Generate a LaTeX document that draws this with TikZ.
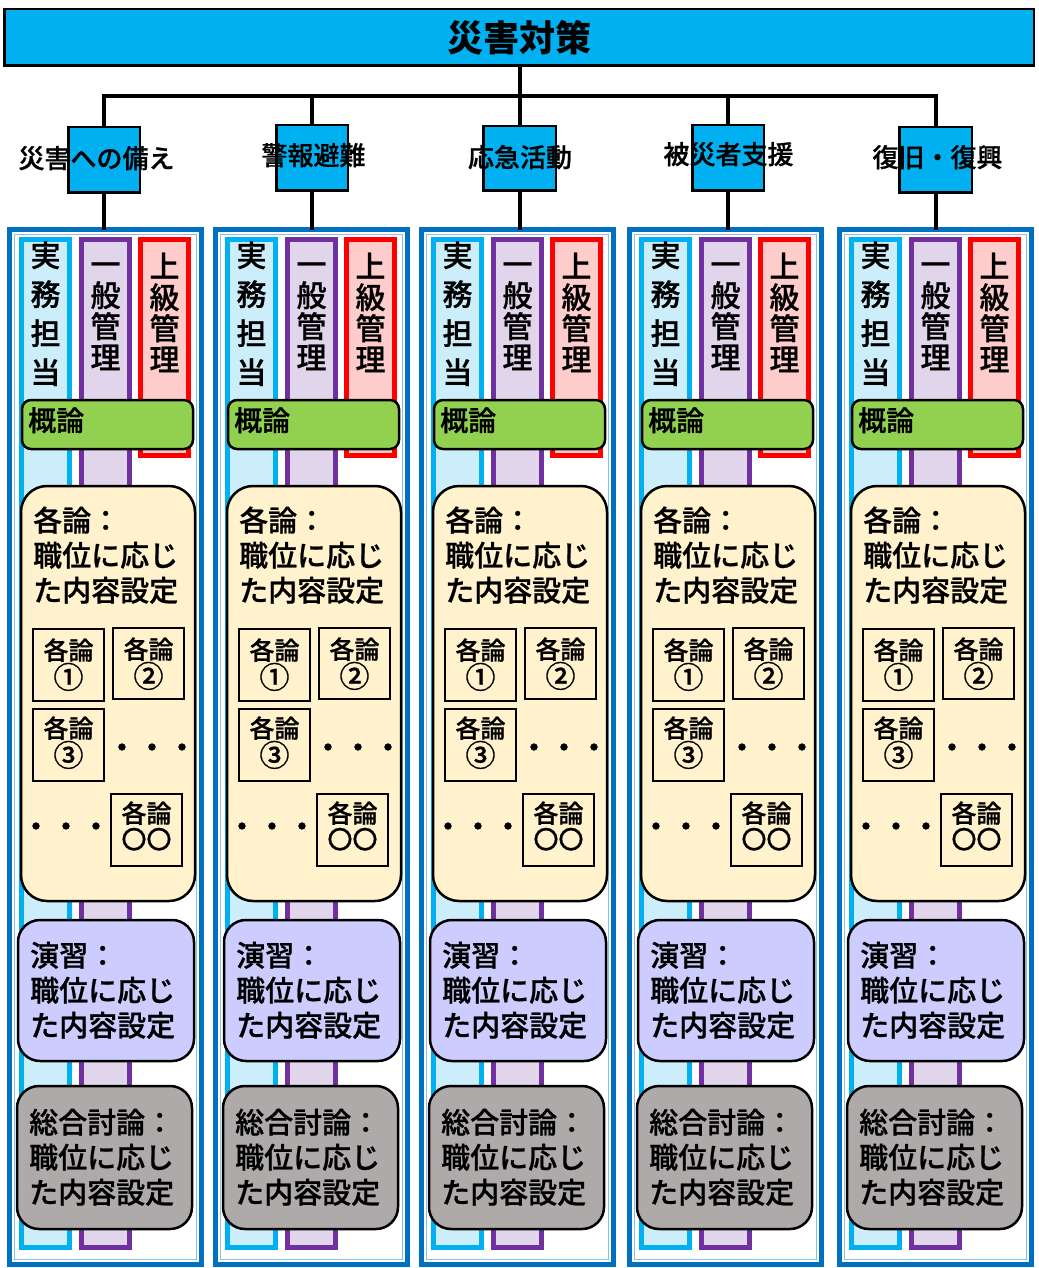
\documentclass[tikz,border=0pt]{standalone}
\usepackage{fontspec}
\setmainfont{Noto Sans CJK JP}
\IfFontExistsTF{Noto Sans CJK JP Medium}
  {\newfontfamily\jpm{Noto Sans CJK JP Medium}[FakeBold=0.8]}
  {\newfontfamily\jpm{Noto Sans CJK JP}[FakeBold=2]}
\newcommand\topstr{\rule{0pt}{.88em}}
\newcommand\circnum[1]{{\fontsize{30}{25}\selectfont #1}}
\definecolor{cBlue}{HTML}{0070C0}
\definecolor{cCyan}{HTML}{00B0F0}
\definecolor{cCyanL}{HTML}{CCEEFA}
\definecolor{cPurple}{HTML}{7030A0}
\definecolor{cPurpleL}{HTML}{E0D5EA}
\definecolor{cRed}{HTML}{FF0000}
\definecolor{cRedL}{HTML}{FFCCCC}
\definecolor{cGreen}{HTML}{92D050}
\definecolor{cYellow}{HTML}{FFF2CC}
\definecolor{cLav}{HTML}{CCCCFF}
\definecolor{cGray}{HTML}{AEAAAA}
\begin{document}
\begin{tikzpicture}[x=1pt,y=-1pt,
 box/.style={inner sep=0pt, outer sep=0pt, anchor=north west},
 sz/.style 2 args={minimum width=#1pt, minimum height=#2pt},
 titlebox/.style={box, draw=black, line width=2.5pt, fill=cCyan},
 catbox/.style={box, draw=black, line width=2.5pt, fill=cCyan},
 conn/.style={line width=4pt, draw=black, line join=miter},
 colbox/.style={box, draw=cBlue, line width=5.5pt, fill=white},
 colin/.style={box, draw=cBlue!45, line width=0.8pt},
 stripA/.style={box, draw=cCyan, fill=cCyanL, line width=5pt},
 stripB/.style={box, draw=cPurple, fill=cPurpleL, line width=5pt},
 stripC/.style={box, draw=cRed, fill=cRedL, line width=5pt},
 gaibox/.style={box, draw=black, line width=2.5pt, fill=cGreen, rounded corners=9pt},
 kakubox/.style={box, draw=black, line width=2.5pt, fill=cYellow, rounded corners=26pt},
 ensbox/.style={box, draw=black, line width=2.5pt, fill=cLav, rounded corners=22pt},
 sogbox/.style={box, draw=black, line width=2.5pt, fill=cGray, rounded corners=22pt},
 smbox/.style={box, draw=black, line width=2pt},
 titletext/.style={inner sep=0pt, anchor=base, font=\fontsize{36}{40}\selectfont\bfseries},
 cattext/.style={inner sep=0pt, anchor=base, font=\jpm\fontsize{26}{30}\selectfont},
 vtext/.style={inner sep=0pt, anchor=north, align=center, font=\jpm\fontsize{30}{#1}\selectfont},
 gtext/.style={inner sep=0pt, anchor=north west, font=\jpm\fontsize{28}{32}\selectfont},
 btext/.style={inner sep=0pt, anchor=north west, align=left, font=\jpm\fontsize{29}{35}\selectfont},
 stext/.style={inner sep=0pt, anchor=north, align=center, font=\jpm\fontsize{25}{#1}\selectfont},
 dots/.style={inner sep=0pt, anchor=base, font=\jpm\fontsize{30}{36}\selectfont}
]
\useasboundingbox (0,0) rectangle (1038,1268);
\fill[white] (0,0) rectangle (1038,1268);

% title
\node[titlebox, sz={1029.5}{56.5}] (title) at (4.25,9.25) {};
\node[titletext] (titlet) at (519,51.7) {災害対策};

% category boxes
\node[catbox, sz={71.5}{65.5}] (cat1) at (68.25,127.25) {};
\node[catbox, sz={71.5}{65.5}] (cat2) at (276.25,125.25) {};
\node[catbox, sz={72.5}{64.5}] (cat3) at (483.25,126.25) {};
\node[catbox, sz={71.5}{65.5}] (cat4) at (692.25,125.25) {};
\node[catbox, sz={72.5}{65.5}] (cat5) at (899.25,127.25) {};

% columns
\foreach \i/\bx in {1/7,2/213,3/419,4/627,5/837}{
  \node[colbox, sz={192}{1035}] (col\i) at (\bx+2.5,229.5) {};
  \node[colin, sz={182}{1025}] (colin\i) at (\bx+7.5,234.5) {};
  \node[stripA, sz={48}{1008}] (sa\i) at (\bx+14.5,239.5) {};
  \node[stripB, sz={48}{1008}] (sb\i) at (\bx+74.5,239.5) {};
  \node[stripC, sz={48}{216}] (sc\i) at (\bx+133.5,239.5) {};
  \node[vtext=39] (ta\i) at (\bx+38.5,240) {\topstr 実\\務\\担\\当};
  \node[vtext=31] (tb\i) at (\bx+98.5,249) {\topstr 一\\般\\管\\理};
  \node[vtext=31] (tc\i) at (\bx+157.5,251) {\topstr 上\\級\\管\\理};
  % overview
  \node[gaibox, sz={171}{49}] (gai\i) at (\bx+15,400) {};
  \node[gtext] (gait\i) at (\bx+21,406) {\topstr 概論};
  % individual
  \node[kakubox, sz={174}{415}] (kaku\i) at (\bx+14,486) {};
  \node[btext] (kakut\i) at (\bx+26,505.5) {\topstr 各論：\\職位に応じ\\た内容設定};
  \node[smbox, sz={71}{72}] (k1\i) at (\bx+26,629) {};
  \node[smbox, sz={71}{71}] (k2\i) at (\bx+106,628) {};
  \node[smbox, sz={71}{72}] (k3\i) at (\bx+26,709) {};
  \node[smbox, sz={71}{72}] (k4\i) at (\bx+104,794) {};
  \node[stext=25] (k1t\i) at (\bx+61.5,637.5) {\topstr 各論\\\circnum{①}};
  \node[stext=25] (k2t\i) at (\bx+141.5,636.5) {\topstr 各論\\\circnum{②}};
  \node[stext=25] (k3t\i) at (\bx+61.5,715.5) {\topstr 各論\\\circnum{③}};
  \node[stext=26] (k4t\i) at (\bx+139.5,800.5) {\topstr 各論\\〇〇};
  \node[dots] (dr\i) at (\bx+145,758.4) {・・・};
  \node[dots] (dl\i) at (\bx+59,837.4) {・・・};
  % exercise
  \node[ensbox, sz={176}{141}] (ens\i) at (\bx+11,920) {};
  \node[btext] (enst\i) at (\bx+23,940.5) {\topstr 演習：\\職位に応じ\\た内容設定};
  % general discussion
  \node[sogbox, sz={175}{143}] (sog\i) at (\bx+10,1086) {};
  \node[btext] (sogt\i) at (\bx+22,1107.5) {\topstr 総合討論：\\職位に応じ\\た内容設定};
}

% connectors
\coordinate (bus) at (0,96);
\draw[conn] (title.south -| cat3.north) -- (cat3.north);
\draw[conn] (cat1.north) -- (cat1.north |- bus) -- (cat5.north |- bus) -- (cat5.north);
\draw[conn] (cat2.north) -- (cat2.north |- bus);
\draw[conn] (cat4.north) -- (cat4.north |- bus);
\foreach \i in {1,...,5}{
  \draw[conn] (cat\i.south) -- (cat\i.south |- col\i.north);
}

% category labels
\node[cattext] (lab1) at (96.5,168) {災害への備え};
\node[cattext] (lab2) at (313.5,165) {警報避難};
\node[cattext] (lab3) at (520,167) {応急活動};
\node[cattext] (lab4) at (728.5,164) {被災者支援};
\node[cattext] (lab5) at (937.5,167) {復旧・復興};
\end{tikzpicture}
\end{document}
